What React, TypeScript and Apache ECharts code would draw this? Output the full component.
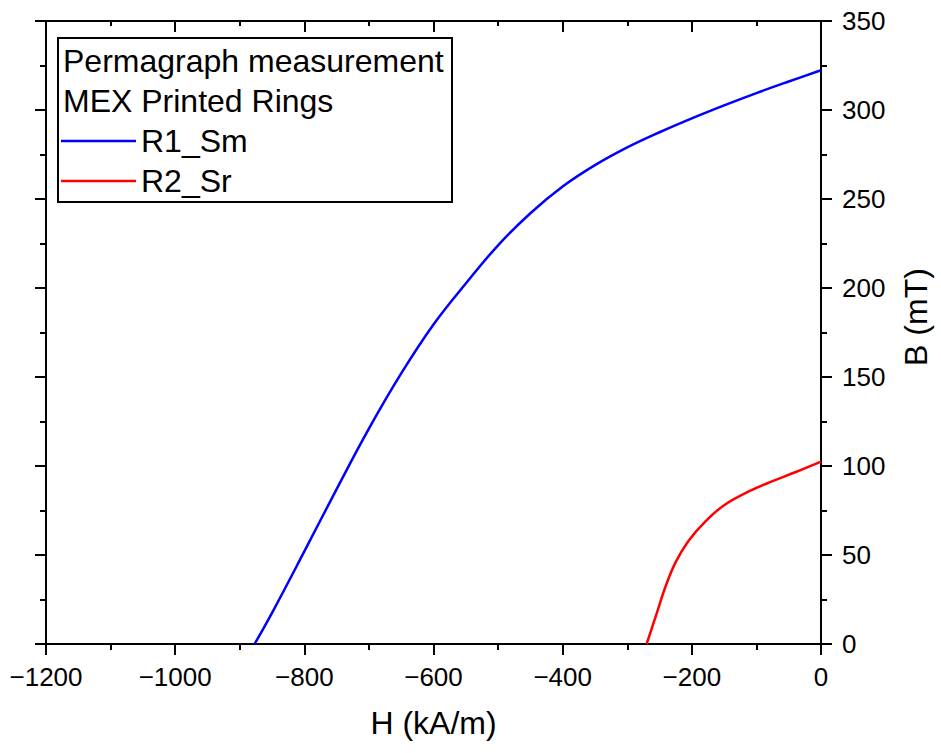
import React, { useEffect, useRef } from "react";
import * as echarts from "echarts";

// R1_Sm demagnetisation curve (H in kA/m, B in mT)
const H_R1 = [-877, -850, -800, -750, -700, -650, -600, -550, -500, -450, -400, -350, -300, -250, -200, -150, -100, -50, 0];
const B_R1 = [0, 17.5, 52, 87, 121, 152, 179.5, 202.5, 224, 242, 257, 269, 279, 287.5, 295.3, 302.6, 309.5, 316, 322.3];

// R2_Sr demagnetisation curve
const H_R2 = [-270, -255, -240, -225, -205, -180, -150, -110, -75, -40, 0];
const B_R2 = [0, 16.5, 33, 46, 58, 68.5, 78, 86, 91.5, 96.5, 102.5];

const SERIES_NAMES = ["R1_Sm", "R2_Sr"];
const LEGEND_HEADER = ["Permagraph measurement", "MEX Printed Rings"];
const X_TITLE = "H (kA/m)";
const Y_TITLE = "B (mT)";

const FONT = "'Liberation Sans', Arial, Helvetica, sans-serif";

export default function App() {
  const ref = useRef<HTMLDivElement>(null);

  useEffect(() => {
    if (!ref.current) return;
    const chart = echarts.init(ref.current, undefined, { renderer: "svg" });

    const axisLine = { show: true, onZero: false, lineStyle: { color: "#000", width: 2 } };
    const tickStyle = { color: "#000", width: 2 };
    const minus = (v: number) => String(v).replace("-", "\u2212");

    chart.setOption({
      animation: false,
      backgroundColor: "#fff",
      grid: { left: 46, right: 120, top: 21, bottom: 109, containLabel: false },
      legend: {
        orient: "vertical",
        left: 56,
        top: 120,
        icon: "rect",
        itemWidth: 75,
        itemHeight: 2.5,
        itemGap: 8,
        data: SERIES_NAMES,
        textStyle: { fontSize: 32, color: "#000", fontFamily: FONT },
        selectedMode: false,
      },
      xAxis: [
        {
          type: "value",
          position: "bottom",
          min: -1200,
          max: 0,
          interval: 200,
          axisLine,
          axisTick: { show: true, inside: false, length: 11, lineStyle: tickStyle },
          minorTick: { show: true, splitNumber: 2, length: 6, lineStyle: tickStyle },
          splitLine: { show: false },
          minorSplitLine: { show: false },
          axisLabel: { fontSize: 26, color: "#000", margin: 20, fontFamily: FONT, formatter: minus },
          name: X_TITLE,
          nameLocation: "middle",
          nameGap: 63,
          nameTextStyle: { fontSize: 32, color: "#000", fontFamily: FONT },
        },
        {
          type: "value",
          position: "top",
          min: -1200,
          max: 0,
          interval: 200,
          axisLine,
          axisTick: { show: true, inside: true, length: 11, lineStyle: tickStyle },
          minorTick: { show: true, splitNumber: 2, length: 5, lineStyle: tickStyle },
          splitLine: { show: false },
          minorSplitLine: { show: false },
          axisLabel: { show: false },
        },
      ],
      yAxis: [
        {
          type: "value",
          position: "right",
          min: 0,
          max: 350,
          interval: 50,
          axisLine,
          axisTick: { show: true, inside: false, length: 11, lineStyle: tickStyle },
          minorTick: { show: true, splitNumber: 2, length: 6, lineStyle: tickStyle },
          splitLine: { show: false },
          minorSplitLine: { show: false },
          axisLabel: { fontSize: 26, color: "#000", margin: 21, fontFamily: FONT },
        },
        {
          type: "value",
          position: "left",
          min: 0,
          max: 350,
          interval: 50,
          axisLine,
          axisTick: { show: true, inside: false, length: 11, lineStyle: tickStyle },
          minorTick: { show: true, splitNumber: 2, length: 6, lineStyle: tickStyle },
          splitLine: { show: false },
          minorSplitLine: { show: false },
          axisLabel: { show: false },
        },
      ],
      series: [
        {
          name: SERIES_NAMES[0],
          type: "line",
          xAxisIndex: 0,
          yAxisIndex: 0,
          symbol: "none",
          smooth: 0.4,
          lineStyle: { color: "#0000ff", width: 2.5 },
          itemStyle: { color: "#0000ff" },
          data: H_R1.map((h, i) => [h, B_R1[i]]),
        },
        {
          name: SERIES_NAMES[1],
          type: "line",
          xAxisIndex: 0,
          yAxisIndex: 0,
          symbol: "none",
          smooth: 0.4,
          lineStyle: { color: "#ff0000", width: 2.5 },
          itemStyle: { color: "#ff0000" },
          data: H_R2.map((h, i) => [h, B_R2[i]]),
        },
      ],
      graphic: [
        {
          type: "rect",
          shape: { x: 58, y: 38, width: 394, height: 164 },
          style: { fill: "none", stroke: "#000", lineWidth: 2 },
          z: 10,
        },
        {
          type: "text",
          x: 63,
          y: 61,
          style: {
            text: LEGEND_HEADER[0],
            fontSize: 32,
            fontFamily: FONT,
            fill: "#000",
            verticalAlign: "middle",
            align: "left",
          },
          z: 10,
        },
        {
          type: "text",
          x: 63,
          y: 101,
          style: {
            text: LEGEND_HEADER[1],
            fontSize: 32,
            fontFamily: FONT,
            fill: "#000",
            verticalAlign: "middle",
            align: "left",
          },
          z: 10,
        },
        {
          type: "text",
          x: 916,
          y: 317,
          rotation: Math.PI / 2,
          style: {
            text: Y_TITLE,
            fontSize: 32,
            fontFamily: FONT,
            fill: "#000",
            verticalAlign: "middle",
            align: "center",
          },
        },
      ],
    });

    return () => chart.dispose();
  }, []);

  return (
    <div
      ref={ref}
      style={{ position: "fixed", left: 0, top: 0, width: 941, height: 753, background: "#fff" }}
    />
  );
}
